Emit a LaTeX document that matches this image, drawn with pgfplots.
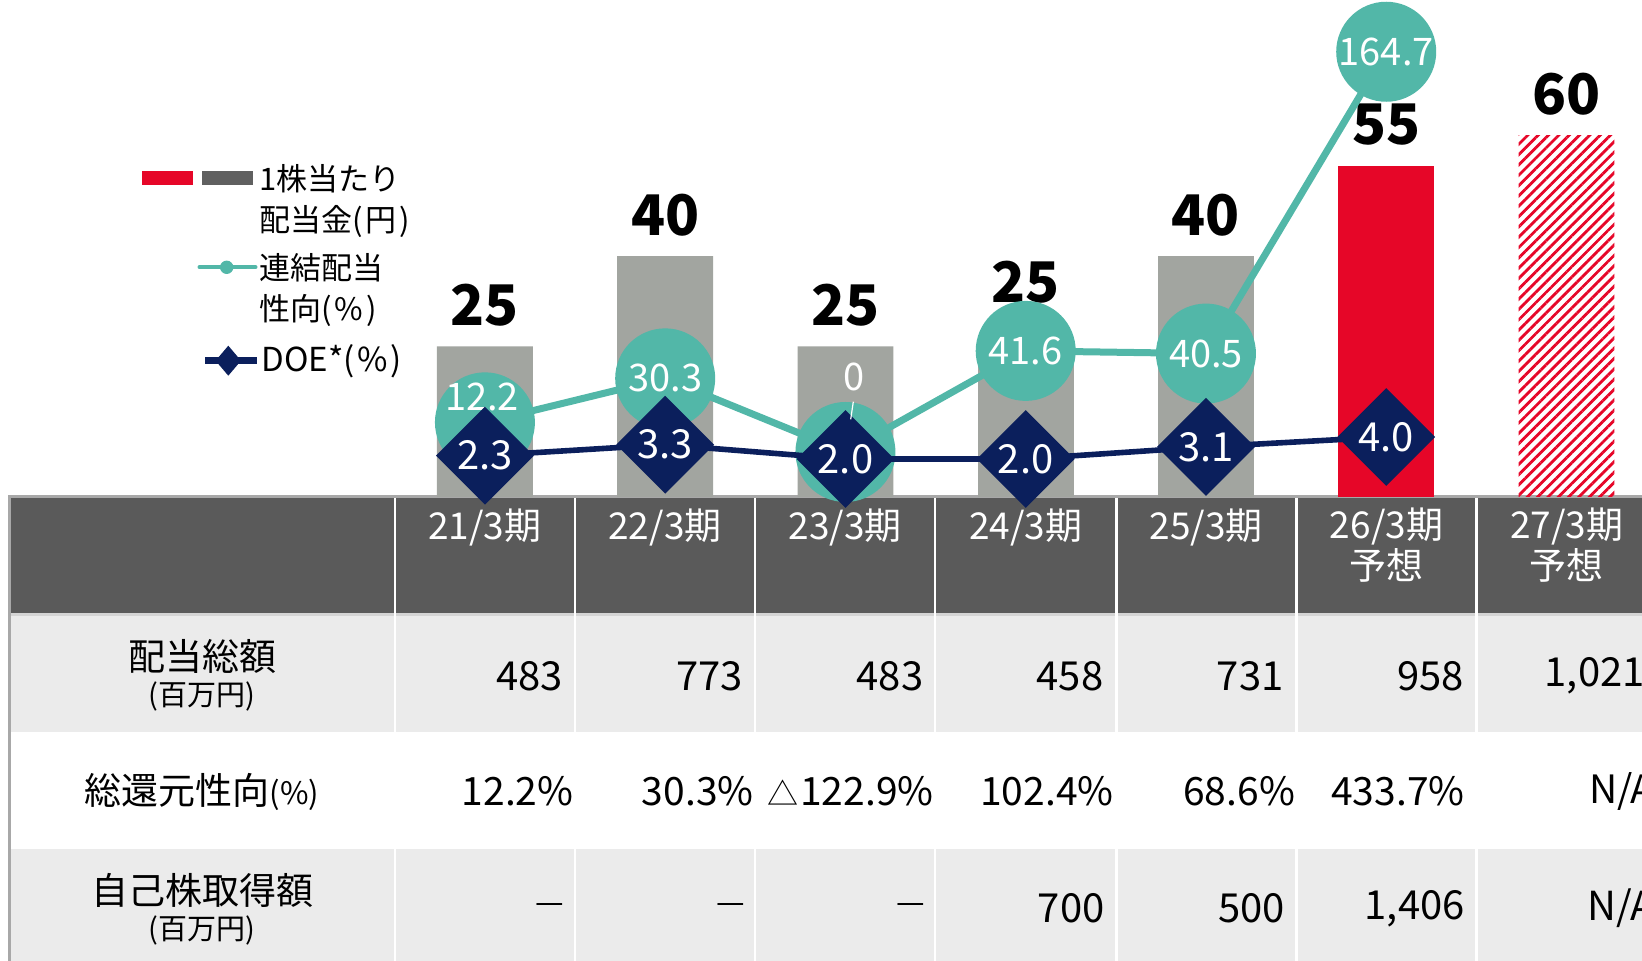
\documentclass[border=0pt]{standalone}
\usepackage{pgfplots}
\pgfplotsset{compat=1.18}
\usepackage{pgfplotstable}
\usepackage{fontspec}
\setmainfont{Noto Sans CJK JP}
\usetikzlibrary{patterns.meta}
\definecolor{barGray}{HTML}{A2A5A0}
\definecolor{barRed}{HTML}{E60628}
\definecolor{tealc}{HTML}{52B7A8}
\definecolor{navyc}{HTML}{0B1F5C}
\definecolor{hdr}{HTML}{5A5A5A}
\definecolor{rowg}{HTML}{EBEBEB}
\definecolor{lineg}{HTML}{A8A8A8}
\definecolor{sepg}{HTML}{D4D4D4}
\definecolor{leggray}{HTML}{606060}
\newcommand\fs[1]{\fontsize{#1}{#1}\selectfont}

% dividend per share (yen)
\pgfplotstableread{
x y
0 25
1 40
2 25
4 40
}\dpsA
\pgfplotstableread{
x y
3 25
}\dpsAb
\pgfplotstableread{
x y
5 55
}\dpsB
\pgfplotstableread{
x y
6 60
}\dpsC
% consolidated payout ratio (%)
\pgfplotstableread{
x y lab
0 12.2 {}
1 30.3 30.3
2 0 {}
3 41.6 41.6
4 40.5 40.5
5 164.7 164.7
}\payout
% DOE (%)
\pgfplotstableread{
x y lab
0 2.3 2.3
1 3.3 3.3
2 2.0 2.0
3 2.0 2.0
4 3.1 3.1
5 4.0 4.0
}\doe

\pgfplotsset{base/.style={scale only axis, width=630.9pt, height=248.5pt,
  at={(197.4pt,-248.5pt)}, anchor=south west, xmin=-0.5, xmax=6.5,
  hide axis, clip=false},
  barlab/.style={every node near coord/.append style={font=\fs{28pt}\bfseries, text=black, inner sep=0pt, yshift=#1}},
  inlab/.style={only marks, mark=*, mark size=0.01pt, mark options={draw=none, fill=none},
    nodes near coords, point meta=explicit symbolic, nodes near coords align=center,
    every node near coord/.append style={font=\fs{19pt}, text=white, inner sep=0pt, #1}}}

\begin{document}
\begin{tikzpicture}
\useasboundingbox (0,0) rectangle (821pt,-480.5pt);
\clip (0,0) rectangle (821pt,-480.5pt);
\begin{scope}[x=0.5pt,y=-0.5pt]
% table background
\fill[hdr] (10.5,498) rectangle (1700,613);
\fill[sepg] (10.5,613) rectangle (1700,616);
\fill[rowg] (10.5,616) rectangle (1700,731.5);
\fill[white] (10.5,731.5) rectangle (1700,848.5);
\fill[rowg] (10.5,848.5) rectangle (1700,961);
\fill[lineg] (8,495) rectangle (1700,498.5);
\fill[lineg] (8,495) rectangle (10.5,961);
\foreach \c in {394.8,574.9,755.0,935.2,1116.4,1296.4,1476.6}{
  \fill[white] ({\c-1.2},498.5) rectangle ({\c+1.2},961);
}
% header
\begin{scope}[every node/.style={text=white, font=\fs{18.5pt}, inner sep=0pt}]
\node at (484.9,527.5) {21/3期};
\node at (665.0,527.5) {22/3期};
\node at (845.1,527.5) {23/3期};
\node at (1025.8,527.5) {24/3期};
\node at (1206.4,527.5) {25/3期};
\node at (1386.5,526.7) {26/3期};
\node at (1386.5,565) {予想};
\node at (1566.7,526.7) {27/3期};
\node at (1566.7,565) {予想};
\end{scope}
% row labels
\node[font=\fs{18.5pt}, inner sep=0pt] at (202,656.7) {配当総額};
\node[font=\fs{14.5pt}, inner sep=0pt] at (202,696.7) {(百万円)};
\node[font=\fs{18.5pt}, inner sep=0pt] at (202,791.7) {総還元性向{\fs{15.5pt}(\%)}};
\node[font=\fs{18.5pt}, inner sep=0pt] at (202,890) {自己株取得額};
\node[font=\fs{14.5pt}, inner sep=0pt] at (202,930) {(百万円)};
% values
\begin{scope}[every node/.style={anchor=east, font=\fs{20pt}, inner sep=0pt}]
\node at (563.4,676) {483};
\node at (743.5,676) {773};
\node at (923.6,676) {483};
\node at (1103.7,676) {458};
\node at (1283.9,676) {731};
\node at (1464,676) {958};
\node at (1645,676) {1,021};
\node at (1104.8,908.3) {700};
\node at (1285,908.3) {500};
\node at (1465,908.3) {1,406};
\node at (1655,908.3) {N/A};
\end{scope}
\begin{scope}[every node/.style={anchor=east, font=\fs{19.5pt}, inner sep=0pt}]
\node at (573.9,791.7) {12.2\%};
\node at (754,791.7) {30.3\%};
\node at (934,791.7) {{\fs{15.5pt}△}\kern1pt122.9\%};
\node at (1114,791.7) {102.4\%};
\node at (1295.4,791.7) {68.6\%};
\node at (1465,791.7) {433.7\%};
\node at (1655,791.7) {N/A};
\end{scope}
\begin{scope}[every node/.style={font=\fs{16pt}, inner sep=0pt}]
\node at (549.8,908.3) {—};
\node at (731,908.3) {—};
\node at (911,908.3) {—};
\end{scope}
% legend
\fill[barRed] (141.7,170.7) rectangle (193.3,185);
\fill[leggray] (201.7,170.7) rectangle (253.3,185);
\begin{scope}[every node/.style={anchor=west, font=\fs{15.5pt}, inner sep=0pt}]
\node at (259,178.3) {1株当たり};
\node at (259,221.7) {配当金(\kern1.5pt 円\kern1.5pt)};
\node at (259,268) {連結配当};
\node at (259,310) {性向(\kern1.5pt\%\kern1.5pt)};
\node[font=\fs{16.5pt}] at (261,361.7) {DOE*(\kern1.5pt\%\kern1.5pt)};
\end{scope}
\draw[tealc, line width=2pt, line cap=round] (199.5,267.3) -- (255.5,267.3);
\fill[tealc] (226.7,267.3) circle (3.35pt);
\draw[navyc, line width=3.5pt] (205,360.7) -- (256.7,360.7);
\fill[navyc] (228.3,345.7) -- (241,360.7) -- (228.3,375.7) -- (215.6,360.7) -- cycle;
\end{scope}

% bars: dividend per share
\begin{axis}[base, ymin=0, ymax=82.56, ybar, bar width=0.532,
  nodes near coords, /pgf/number format/assume math mode=true]
\addplot[fill=barGray, draw=none, bar shift=0pt, barlab=10pt] table[x=x,y=y] {\dpsA};
\addplot[fill=barGray, draw=none, bar shift=0pt, barlab=21.5pt] table[x=x,y=y] {\dpsAb};
\addplot[fill=barRed, draw=none, bar shift=0pt, barlab=10pt] table[x=x,y=y] {\dpsB};
\addplot[draw=none, bar shift=0pt, barlab=10pt, pattern={Lines[angle=45,distance=3.65pt,line width=1.4pt]}, pattern color=barRed] table[x=x,y=y] {\dpsC};
\end{axis}

% payout ratio
\begin{axis}[base, ymin=-18.52, ymax=186.0]
\addplot[tealc, line width=3.5pt, mark=*, mark size=23.25pt,
  mark options={draw=none, fill=tealc},
  nodes near coords, point meta=explicit symbolic, nodes near coords align=center,
  every node near coord/.append style={font=\fs{19pt}, text=white, inner sep=0pt}]
  table[x=x, y=y, meta=lab] {\payout};
\addplot[inlab={xshift=-1.5pt, yshift=12.5pt}] coordinates {(0,12.2) [12.2]};
\addplot[inlab={xshift=4.1pt, yshift=37.65pt}] coordinates {(2,0) [0]};
\end{axis}

% DOE
\begin{axis}[base, ymin=-1.4545, ymax=43.73]
\addplot[navyc, line width=2.8pt, mark=square*, mark size=15.9pt,
  mark options={draw=none, fill=navyc, rotate=45},
  nodes near coords, point meta=explicit symbolic, nodes near coords align=center,
  every node near coord/.append style={font=\fs{20pt}, text=white, inner sep=0pt}]
  table[x=x, y=y, meta=lab] {\doe};
\end{axis}
% leader line of the 23/3 payout label
\begin{scope}[x=0.5pt,y=-0.5pt]
\draw[white, line width=0.6pt] (853.3,401.7) -- (850.7,419.3);
\end{scope}
\end{tikzpicture}
\end{document}
